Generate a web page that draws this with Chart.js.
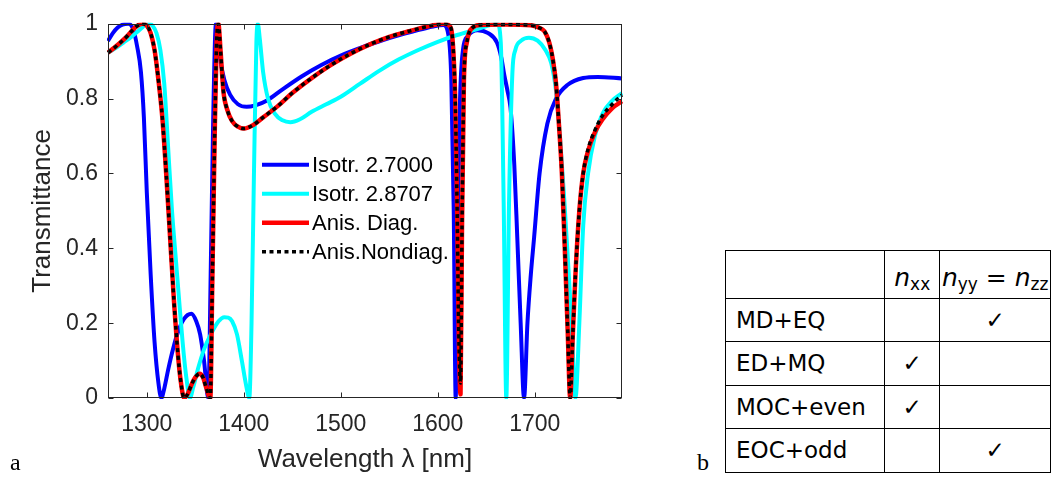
<!DOCTYPE html>
<html>
<head>
<meta charset="utf-8">
<script src="https://cdn.jsdelivr.net/npm/chart.js@4.4.0/dist/chart.umd.min.js"></script>
<style>
  body { margin: 0; background: #fff; width: 1051px; height: 481px; overflow: hidden; position: relative; }
  #chartBox { position: absolute; left: 0; top: 0; }
  .panel { position: absolute; font-family: "Liberation Serif", serif; font-size: 24px; line-height: 24px; color: #000; }
  #modes { position: absolute; left: 725px; top: 250px; border-collapse: collapse; table-layout: fixed;
           font-family: "DejaVu Sans", sans-serif; font-size: 23px; color: #000; }
  #modes td { border: 1px solid #000; padding: 0; height: 42.5px; }
  #modes td.name { padding-left: 10px; text-align: left; }
  #modes td.mark { text-align: center; font-size: 23px; }
  #modes tr.head td { text-align: center; vertical-align: bottom; padding-bottom: 4px; font-size: 25px; }
  #modes sub { font-size: 17px; font-style: normal; vertical-align: -4px; }
</style>
</head>
<body>
<div id="chartBox"><canvas id="specChart" width="640" height="481"></canvas></div>
<div class="panel" style="left:10px; top:450px;">a</div>
<div class="panel" style="left:697px; top:450px;">b</div>
<table id="modes">
  <colgroup><col style="width:161px"><col style="width:57px"><col style="width:118px"></colgroup>
  <tbody id="modesBody"></tbody>
</table>
<script>
// transmittance spectra (wavelength in nm)
const blueWl = [1260,1265,1270,1275,1281,1286,1290,1294,1297,1300,1304,1308,1312,1315,1318,1322,1327,1332,1338,1346,
  1351,1355,1359,1363.4,1366,1368.5,1371.3,1373.5,1376,1380,1386,1394,1403,1412,1424,1440,1460,1480,1500,1525,
  1550,1575,1595,1606,1611,1614,1616.5,1618.5,1620.5,1623,1626,1631,1641,1652,1661,1665.5,1668.5,1672,1675,1679,
  1682,1685.5,1689,1692.5,1696,1699.4,1705,1713,1722,1734,1750,1765,1790];
const blueT = [0.954,0.975,0.99,0.998,1.0,0.985,0.94,0.87,0.75,0.55,0.33,0.15,0.04,0.0,0.025,0.075,0.13,0.175,0.21,0.225,
  0.205,0.17,0.1,0.0,0.35,0.75,1.0,0.96,0.9,0.85,0.81,0.785,0.778,0.782,0.795,0.825,0.86,0.89,0.915,0.94,
  0.962,0.98,0.993,0.997,0.97,0.85,0.5,0.0,0.45,0.8,0.93,0.967,0.983,0.975,0.95,0.91,0.865,0.82,0.776,0.62,
  0.43,0.2,0.0,0.2,0.33,0.43,0.6,0.733,0.8,0.837,0.855,0.858,0.854];

const cyanWl = [1260,1268,1276,1284,1290,1296,1301.5,1306,1310,1314,1318,1322,1326,1330,1334,1338,1341,1344.4,1348,1353,
  1359,1366,1374,1380,1384,1388,1393,1398,1402,1405.7,1408,1410.5,1413,1414.5,1416.5,1420,1425,1432,1440,1448,
  1458,1470,1485,1500,1520,1540,1560,1580,1600,1620,1640,1655,1661.5,1665,1668,1670.7,1673.5,1677,1680,1686,
  1694,1703,1711,1717,1722,1726,1730,1734,1738,1742,1746,1750,1755,1762,1770,1780,1790];
const cyanT = [0.923,0.935,0.95,0.965,0.978,0.992,1.0,0.995,0.975,0.93,0.84,0.67,0.5,0.37,0.24,0.12,0.05,0.0,0.03,0.08,
  0.13,0.17,0.205,0.216,0.215,0.205,0.17,0.1,0.04,0.0,0.2,0.6,0.95,1.0,0.96,0.87,0.8,0.76,0.742,0.737,
  0.745,0.765,0.785,0.805,0.84,0.875,0.905,0.93,0.952,0.97,0.985,0.997,1.0,0.95,0.52,0.0,0.52,0.87,0.93,0.955,
  0.963,0.955,0.93,0.895,0.82,0.7,0.55,0.38,0.2,0.0,0.2,0.46,0.6,0.7,0.76,0.795,0.815];

const anisWl = [1260,1266,1272,1279,1286,1291,1296,1300,1304,1308,1312,1316,1320,1324,1328,1332,1335,1338.5,1342,1346,
  1350,1354.5,1358,1361,1365.5,1367.5,1370,1372,1373.8,1376,1379,1383,1388,1394,1400,1410,1420,1435,1450,1470,
  1490,1510,1530,1550,1570,1590,1606,1612,1615.5,1618,1620,1621.5,1623.5,1625,1627,1630,1636,1644,1670,1696,
  1704,1710,1715,1719,1722,1725,1728,1731,1734,1736.6,1739,1742,1746,1750,1755,1762,1770,1780,1790];
const anisDiagT = [0.923,0.935,0.948,0.965,0.985,0.996,1.0,0.995,0.975,0.93,0.85,0.75,0.6,0.43,0.26,0.12,0.045,0.0,0.01,0.035,
  0.055,0.065,0.055,0.03,0.0,0.3,0.7,0.95,1.0,0.93,0.82,0.77,0.74,0.725,0.72,0.73,0.75,0.78,0.815,0.855,
  0.89,0.92,0.945,0.965,0.98,0.993,1.0,0.995,0.95,0.8,0.5,0.2,0.01,0.45,0.85,0.95,0.99,0.997,0.998,0.996,
  0.99,0.98,0.95,0.9,0.84,0.73,0.6,0.4,0.18,0.0,0.15,0.33,0.5,0.6,0.66,0.71,0.745,0.775,0.793];
const anisNondiagT = [0.923,0.935,0.948,0.965,0.985,0.996,1.0,0.995,0.975,0.93,0.85,0.75,0.6,0.43,0.26,0.12,0.045,0.0,0.01,0.035,
  0.055,0.065,0.055,0.03,0.0,0.3,0.7,0.95,1.0,0.93,0.82,0.77,0.74,0.725,0.72,0.73,0.75,0.78,0.815,0.855,
  0.89,0.92,0.945,0.965,0.98,0.993,1.0,0.995,0.95,0.8,0.5,0.2,0.04,0.45,0.85,0.95,0.99,0.997,0.998,0.996,
  0.99,0.98,0.95,0.9,0.84,0.73,0.6,0.4,0.18,0.0,0.15,0.33,0.5,0.6,0.665,0.715,0.755,0.785,0.81];

const seriesNames = ["Isotr. 2.7000", "Isotr. 2.8707", "Anis. Diag.", "Anis.Nondiag."];
const xTicks = [1300, 1400, 1500, 1600, 1700];
const yTicks = [0, 0.2, 0.4, 0.6, 0.8, 1];

// table b
const modeNames = ["MD+EQ", "ED+MQ", "MOC+even", "EOC+odd"];
const inXX = [false, true, true, false];
const inYYZZ = [true, false, false, true];

const pts = (xs, ys) => xs.map((v, i) => ({ x: v, y: ys[i] }));

// MATLAB-like box with inward ticks
const axesBox = {
  id: "axesBox",
  afterDatasetsDraw(chart) {
    const { ctx, chartArea: a, scales: { x, y } } = chart;
    const L = Math.round(a.left) + 0.5, R = Math.round(a.right) - 0.5;
    const T = Math.round(a.top) + 0.5, B = Math.round(a.bottom) - 0.5;
    ctx.save();
    ctx.strokeStyle = "#262626";
    ctx.lineWidth = 1;
    ctx.strokeRect(L, T, R - L, B - T);
    ctx.beginPath();
    xTicks.forEach(v => {
      const px = Math.round(x.getPixelForValue(v)) + 0.5;
      ctx.moveTo(px, B); ctx.lineTo(px, B - 5);
      ctx.moveTo(px, T); ctx.lineTo(px, T + 5);
    });
    yTicks.forEach(v => {
      const py = Math.round(y.getPixelForValue(v)) + 0.5;
      ctx.moveTo(L, py); ctx.lineTo(L + 5, py);
      ctx.moveTo(R, py); ctx.lineTo(R - 5, py);
    });
    ctx.stroke();
    ctx.restore();
  }
};

// legend sitting inside the axes, no frame
const insideLegend = {
  id: "insideLegend",
  afterDatasetsDraw(chart) {
    const { ctx, chartArea: a } = chart;
    const x0 = a.left + 154, y0 = a.top + 141, rowH = 29;
    ctx.save();
    ctx.font = '22px "Liberation Sans", Arial, sans-serif';
    ctx.textBaseline = "middle";
    chart.data.datasets.forEach((ds, i) => {
      const yy = y0 + i * rowH;
      ctx.strokeStyle = ds.borderColor;
      ctx.lineWidth = ds.legendWidth;
      ctx.setLineDash(ds.borderDash || []);
      ctx.beginPath();
      ctx.moveTo(x0, yy);
      ctx.lineTo(x0 + 47, yy);
      ctx.stroke();
      ctx.setLineDash([]);
      ctx.fillStyle = "#000";
      ctx.fillText(ds.label, x0 + 50, yy + 1);
    });
    ctx.restore();
  }
};

const tickFont = { family: '"Liberation Sans", Arial, sans-serif', size: 23 };
const titleFont = { family: '"Liberation Sans", Arial, sans-serif', size: 26 };

const ctx = document.getElementById("specChart").getContext("2d");
const specChart = new Chart(ctx, {
  type: "line",
  data: {
    datasets: [
      { label: seriesNames[0], data: pts(blueWl, blueT), borderColor: "#0000ff", borderWidth: 4, legendWidth: 4, order: 4 },
      { label: seriesNames[1], data: pts(cyanWl, cyanT), borderColor: "#00ffff", borderWidth: 4, legendWidth: 4, order: 3 },
      { label: seriesNames[2], data: pts(anisWl, anisDiagT), borderColor: "#ff0000", borderWidth: 4.5, legendWidth: 4.5, order: 2 },
      { label: seriesNames[3], data: pts(anisWl, anisNondiagT), borderColor: "#000000", borderWidth: 3.5, legendWidth: 3.5,
        borderDash: [4, 3.5], order: 1 },
    ],
  },
  options: {
    responsive: false,
    animation: false,
    parsing: false,
    layout: { padding: { top: 14, right: 18, left: 0, bottom: 0 } },
    elements: {
      point: { radius: 0, hoverRadius: 0 },
      line: { cubicInterpolationMode: "monotone", fill: false, borderCapStyle: "butt", borderJoinStyle: "round" },
    },
    datasets: { line: { clip: 1 } },
    plugins: { legend: { display: false }, tooltip: { enabled: false } },
    scales: {
      x: {
        type: "linear",
        min: 1260,
        max: 1790,
        grid: { display: false, drawTicks: false },
        border: { display: false },
        ticks: { font: tickFont, color: "#262626", padding: 13, maxRotation: 0, autoSkip: false, callback: v => String(v) },
        afterBuildTicks: ax => { ax.ticks = xTicks.map(v => ({ value: v })); },
        afterFit: ax => { ax.height = 83; },
        title: { display: true, text: "Wavelength λ [nm]", font: titleFont, color: "#262626", padding: { top: 0, bottom: 6 } },
      },
      y: {
        type: "linear",
        min: 0,
        max: 1,
        grid: { display: false, drawTicks: false },
        border: { display: false },
        ticks: { font: tickFont, color: "#262626", padding: 10, autoSkip: false, callback: v => String(v) },
        afterBuildTicks: ax => { ax.ticks = yTicks.map(v => ({ value: v })); },
        afterFit: ax => { ax.width = 108; },
        title: { display: true, text: "Transmittance", font: titleFont, color: "#262626", padding: { top: 27, bottom: 0 } },
      },
    },
  },
  plugins: [axesBox, insideLegend],
});

// build table b
const body = document.getElementById("modesBody");
const head = document.createElement("tr");
head.className = "head";
head.innerHTML = '<td></td><td><i>n</i><sub>xx</sub></td><td><i>n</i><sub>yy</sub> = <i>n</i><sub>zz</sub></td>';
body.appendChild(head);
modeNames.forEach((name, i) => {
  const tr = document.createElement("tr");
  tr.innerHTML = '<td class="name">' + name + '</td>' +
    '<td class="mark">' + (inXX[i] ? "✓" : "") + '</td>' +
    '<td class="mark">' + (inYYZZ[i] ? "✓" : "") + '</td>';
  body.appendChild(tr);
});
</script>
</body>
</html>
